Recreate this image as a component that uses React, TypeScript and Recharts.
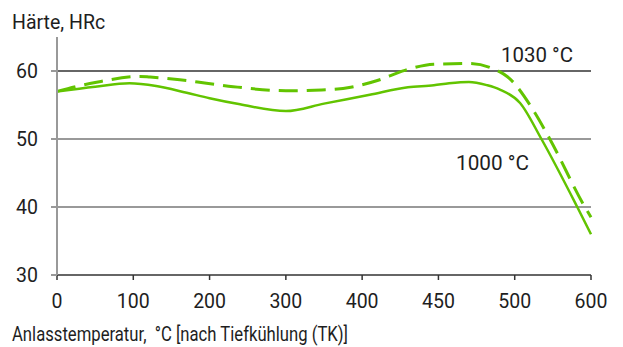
import React from 'react';
import { LineChart, Line, XAxis, YAxis, ReferenceLine } from 'recharts';

// tick labels of the (non-linear) temperature axis, equally spaced
const xTicks = [0, 100, 200, 300, 400, 450, 500, 600];
const yTicks = [30, 40, 50, 60];

// 1000 °C hardening
const temp1000 = [0, 50, 95, 130, 170, 200, 240, 300, 350, 405, 430, 447, 457, 470, 482, 490, 507, 535, 582, 600];
const hrc1000 = [57.0, 57.7, 58.2, 57.8, 56.8, 56.0, 55.1, 54.1, 55.2, 56.5, 57.6, 57.9, 58.2, 58.4, 57.9, 57.3, 55.3, 50, 40, 36];

// 1030 °C hardening
const temp1030 = [0, 50, 109, 122, 161, 196, 231, 300, 347, 385, 410, 428, 447, 470, 490, 495, 524, 546, 592, 600];
const hrc1030 = [57.0, 58.3, 59.2, 59.1, 58.7, 58.2, 57.7, 57.1, 57.2, 57.6, 58.6, 60.1, 61.0, 61.1, 59.9, 59.2, 54.3, 50, 40, 38.5];

const green = '#62c400';
const font = 'Roboto, sans-serif';

// map a temperature onto the equally spaced tick positions
const toPos = (t: number) => {
  for (let i = 0; i < xTicks.length - 1; i++) {
    if (t <= xTicks[i + 1]) return i + (t - xTicks[i]) / (xTicks[i + 1] - xTicks[i]);
  }
  return xTicks.length - 1;
};

const series1000 = temp1000.map((t, i) => ({ pos: toPos(t), hrc: hrc1000[i] }));
const series1030 = temp1030.map((t, i) => ({ pos: toPos(t), hrc: hrc1030[i] }));

export default function App() {
  const tickStyle = { fontSize: 19.5, fill: '#1e1e1e', fontFamily: font };
  return (
    <div style={{ position: 'absolute', left: 0, top: 0, width: 623, height: 347, background: '#fff', fontFamily: font }}>
      <LineChart width={623} height={347} margin={{ top: 37, right: 32, bottom: 32, left: 0 }}>
        <XAxis
          type="number"
          dataKey="pos"
          domain={[0, xTicks.length - 1]}
          ticks={xTicks.map((_, i) => i)}
          tickFormatter={(v: number) => String(xTicks[v])}
          height={40}
          tickSize={5}
          tickMargin={14}
          stroke="#333"
          strokeWidth={1.5}
          tick={tickStyle}
          allowDuplicatedCategory={false}
        />
        <YAxis
          type="number"
          domain={[30, 65]}
          ticks={yTicks}
          width={57}
          tickSize={6}
          tickMargin={13}
          stroke="#999"
          strokeWidth={2}
          tick={tickStyle}
        />
        <ReferenceLine y={60} stroke="#333" strokeWidth={1.5} />
        <ReferenceLine y={50} stroke="#777" strokeWidth={1.5} />
        <ReferenceLine y={40} stroke="#777" strokeWidth={1.5} />
        <Line
          data={series1000}
          dataKey="hrc"
          type="monotone"
          stroke={green}
          strokeWidth={2.5}
          dot={false}
          isAnimationActive={false}
        />
        <Line
          data={series1030}
          dataKey="hrc"
          type="monotone"
          stroke={green}
          strokeWidth={3}
          strokeDasharray="19 9"
          dot={false}
          isAnimationActive={false}
        />
      </LineChart>
      <svg width={623} height={347} style={{ position: 'absolute', left: 0, top: 0, pointerEvents: 'none' }}>
        <g fontFamily={font} fontSize={19.5} fill="#1e1e1e">
          <text x={12} y={29}>Härte, HRc</text>
          <text x={501} y={62} textLength={72} lengthAdjust="spacingAndGlyphs">1030 °C</text>
          <text x={456} y={170} textLength={73} lengthAdjust="spacingAndGlyphs">1000 °C</text>
          <text x={12} y={341} textLength={336} lengthAdjust="spacingAndGlyphs" style={{ whiteSpace: 'pre' }}>
            Anlasstemperatur,  °C [nach Tiefkühlung (TK)]
          </text>
        </g>
      </svg>
    </div>
  );
}
